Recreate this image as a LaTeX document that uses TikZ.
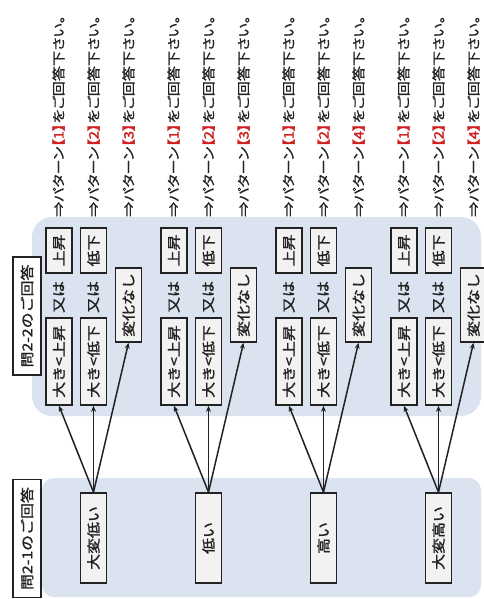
\documentclass[tikz,border=0pt]{standalone}
\usepackage{fontspec}
\setmainfont{Noto Sans CJK JP}
\newfontfamily\jpbox[FakeStretch=1.18,FakeBold=1.5]{Noto Sans CJK JP}
\newfontfamily\jpline[FakeStretch=1.16,FakeBold=0.8,RawFeature=+palt]{Noto Sans CJK JP}
\newfontfamily\jpmark[FakeStretch=1.16,FakeBold=2,RawFeature=+palt]{Noto Sans CJK JP}
\usetikzlibrary{arrows.meta}
\definecolor{bandblue}{HTML}{DAE3EF}
\definecolor{boxfill}{HTML}{F2F2F2}
\definecolor{ink}{HTML}{222222}
\definecolor{patred}{HTML}{D02020}
\tikzset{
  vbox/.style={draw=ink, line width=1.6pt, fill=boxfill, rotate=90, inner sep=0pt,
    minimum height=26pt, text=ink, font=\jpbox\fontsize{13.5}{14}\selectfont},
  vlabel/.style={vbox, fill=white, minimum height=28pt},
  vor/.style={rotate=90, inner sep=0pt, text=ink, font=\jpbox\fontsize{13.5}{14}\selectfont},
  vtext/.style={rotate=90, inner sep=0pt, text=ink, font=\jpline\fontsize{13}{14}\selectfont},
  link/.style={draw=ink, line width=1.5pt, -{Stealth[length=6pt,width=5pt]}},
}
\newcommand{\patno}[1]{\textcolor{patred}{\jpmark 【#1】}}
\begin{document}
\begin{tikzpicture}[x=1pt,y=-1pt]
\useasboundingbox (0,0) rectangle (483,599);
% background bands of the two questions
\fill[bandblue, rounded corners=20pt] (32,217) rectangle (481,416);
\fill[bandblue, rounded corners=12pt] (42,478) rectangle (481,597);
% question labels
\node[vlabel, minimum width=118pt] (q1) at (27,538.5) {問2-1のご回答};
\node[vlabel, minimum width=118pt] (q2) at (27,316) {問2-2のご回答};
% one group per answer of question 2-1
\foreach \cx/\pa/\pb/\pc/\lab [count=\i] in
  {93.5/1/2/3/大変低い, 208.5/1/2/3/低い, 323.5/1/2/4/高い, 438.5/1/2/4/大変高い}{
  \node[vbox, minimum width=90pt] (a\i) at (\cx,538) {\lab};
  \node[vbox, minimum width=45pt] (up\i) at (\cx-34.5,250.5) {上昇};
  \node[vbox, minimum width=45pt] (dn\i) at (\cx,250.5) {低下};
  \node[vor] (ora\i) at (\cx-34.5,297) {又は};
  \node[vor] (orb\i) at (\cx,297) {又は};
  \node[vbox, minimum width=87pt] (bu\i) at (\cx-34.5,361.5) {大き<上昇};
  \node[vbox, minimum width=87pt] (bd\i) at (\cx,361.5) {大き<低下};
  \node[vbox, minimum width=74pt] (nc\i) at (\cx+35,305) {変化なし};
  \draw[link] (a\i.east) -- (bu\i.west);
  \draw[link] (a\i.east) -- (bd\i.west);
  \draw[link] (a\i.east) -- (nc\i.west);
  \node[vtext, anchor=west] (pa\i) at (\cx-35,217) {⇒パターン\patno{\pa}をご回答下さい。};
  \node[vtext, anchor=west] (pb\i) at (\cx,217) {⇒パターン\patno{\pb}をご回答下さい。};
  \node[vtext, anchor=west] (pc\i) at (\cx+35,217) {⇒パターン\patno{\pc}をご回答下さい。};
}
\end{tikzpicture}
\end{document}
